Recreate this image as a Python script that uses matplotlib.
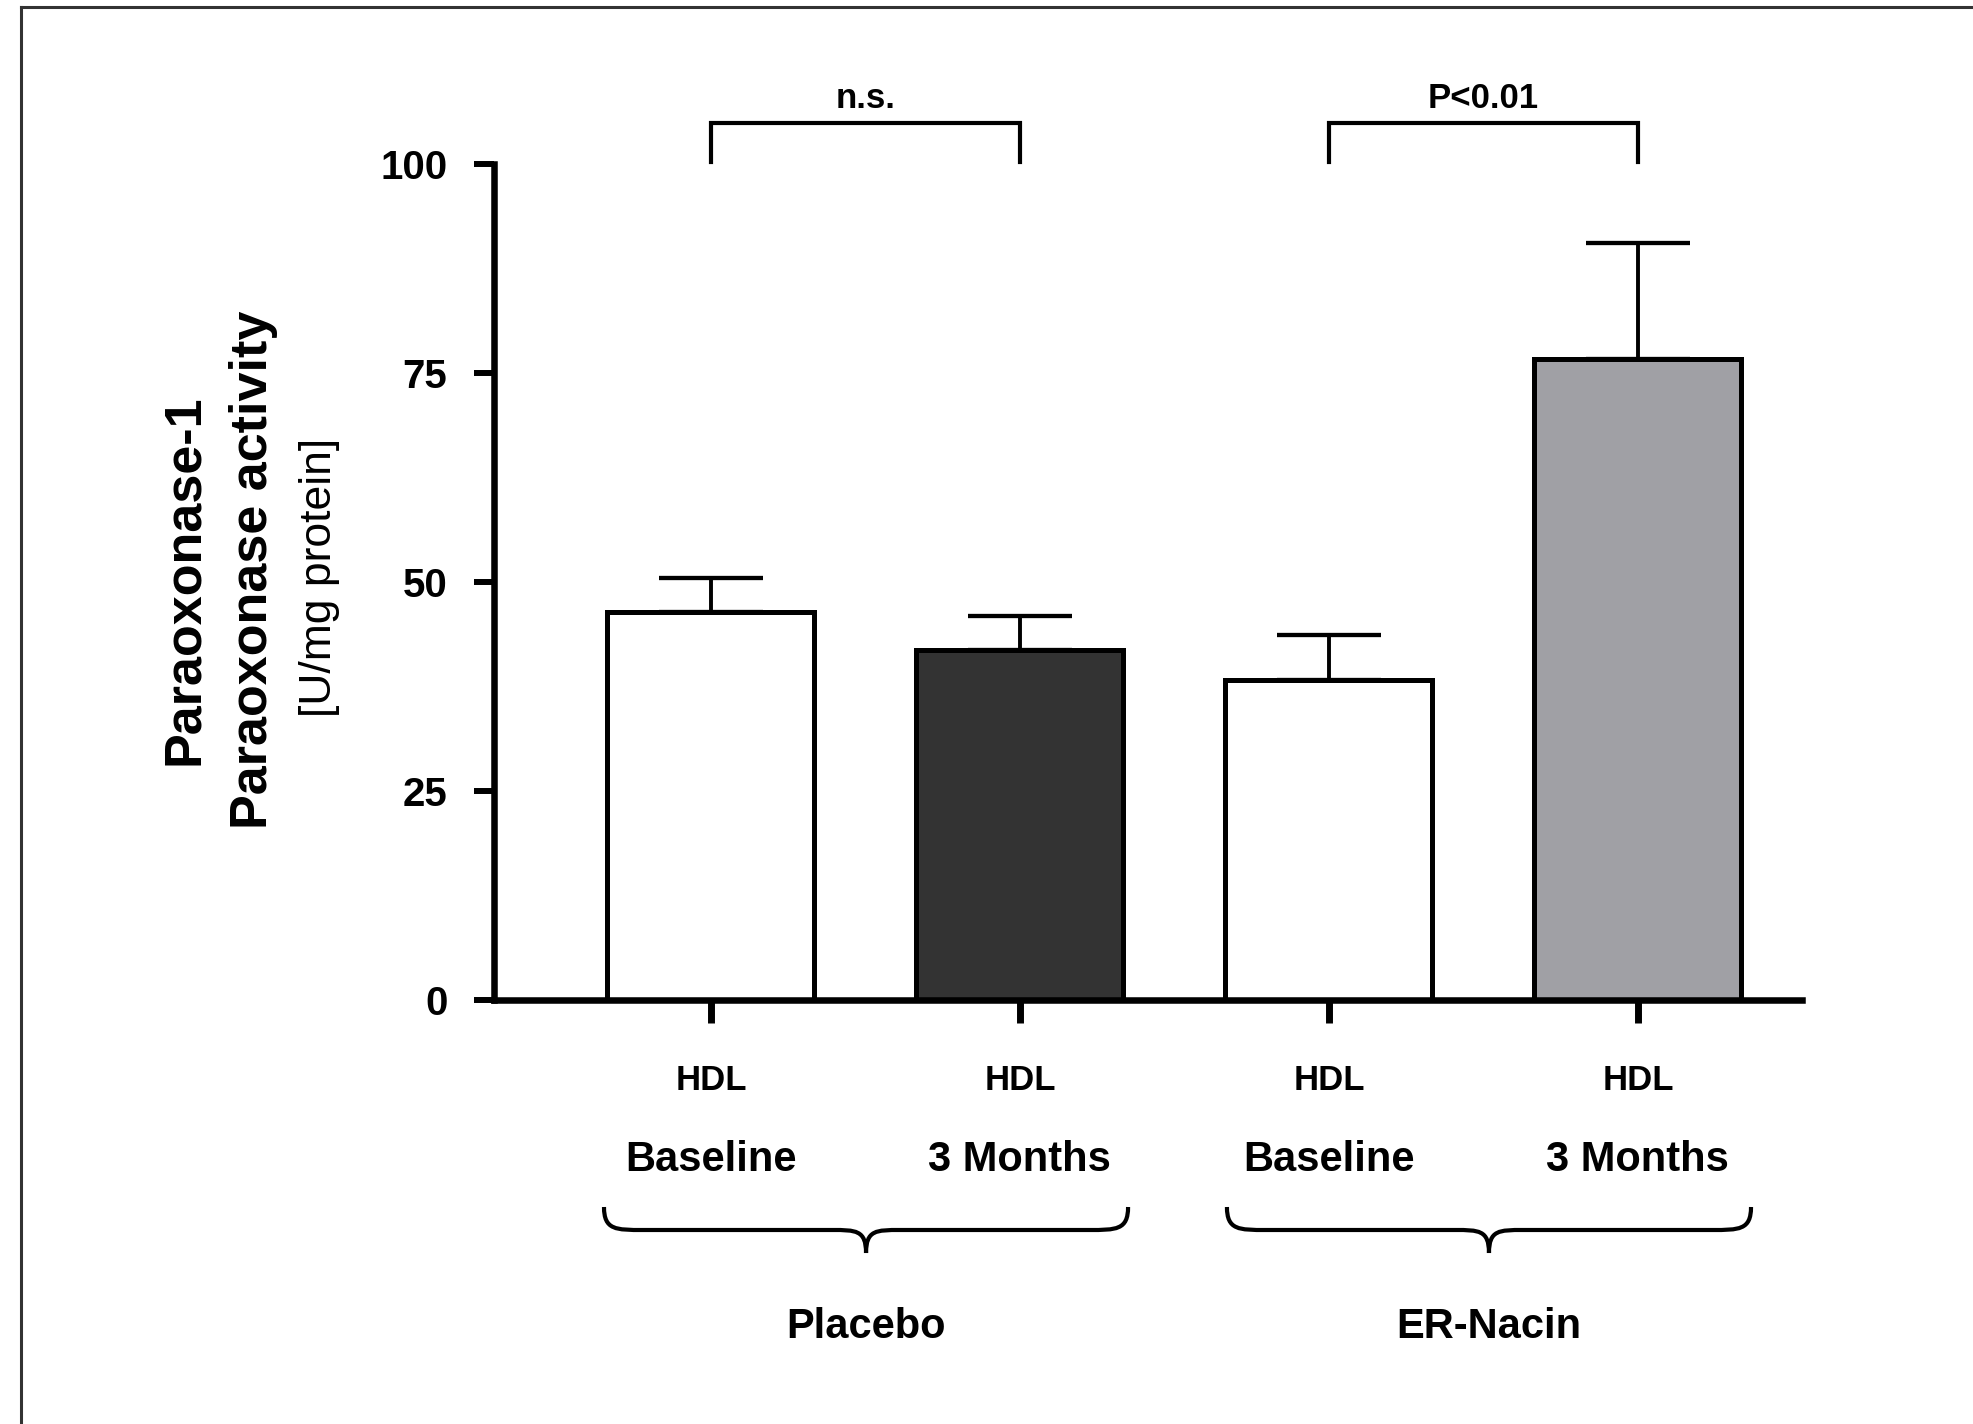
import matplotlib.pyplot as plt
import numpy as np
from matplotlib.path import Path
from matplotlib.patches import PathPatch
from matplotlib.lines import Line2D
from matplotlib.transforms import blended_transform_factory

plt.rcParams['font.family'] = ['Liberation Sans', 'DejaVu Sans']

# data
hdl_label = ['HDL', 'HDL', 'HDL', 'HDL']
time_label = ['Baseline', '3 Months', 'Baseline', '3 Months']
groups = ['Placebo', 'ER-Nacin']
means = [46.4, 41.9, 38.3, 76.7]
sem = [4.1, 4.0, 5.4, 13.9]
bar_colors = ['white', '#333333', 'white', '#a0a0a5']
signif = ['n.s.', 'P<0.01']

W, H = 1973, 1424
fig = plt.figure(figsize=(W / 100, H / 100), dpi=100)
ax = fig.add_axes([494 / W, 1 - 1000 / H, (1802 - 494) / W, (1000 - 164) / H])

x = np.arange(len(means))
ax.bar(x, means, width=0.67, color=bar_colors, edgecolor='black', linewidth=3.6, zorder=2)
ax.errorbar(x, means, yerr=[np.zeros(len(sem)), sem], fmt='none', ecolor='black',
            elinewidth=2.8, capsize=37.5, capthick=3.1, zorder=3)

ax.set_xlim(-0.702, 3.531)
ax.set_ylim(0, 100)
ax.set_yticks([0, 25, 50, 75, 100])
ax.set_xticks(x)
ax.set_xticklabels([''] * 4)
for s in ['top', 'right']:
    ax.spines[s].set_visible(False)
for s in ['left', 'bottom']:
    ax.spines[s].set_linewidth(4.7)
ax.tick_params(axis='y', length=14.5, width=4.3, pad=19, labelsize=29)
ax.tick_params(axis='x', length=16.5, width=5, pad=0)
for lbl in ax.get_yticklabels():
    lbl.set_fontweight('bold')

# x labels under the ticks
trans = blended_transform_factory(ax.transData, fig.transFigure)
for xi, a, b in zip(x, hdl_label, time_label):
    ax.text(xi, 1 - 1090 / H, a, transform=trans, ha='center', va='baseline',
            fontsize=25, fontweight='bold')
    ax.text(xi, 1 - 1171 / H, b, transform=trans, ha='center', va='baseline',
            fontsize=30, fontweight='bold')

# curly braces with group names
def brace(x0, x1):
    y_top, y_mid, y_tip = 1 - 1207 / H, 1 - 1230 / H, 1 - 1253 / H
    w = x1 - x0
    c = (x0 + x1) / 2
    r = 0.075 * w
    q = 0.065 * w
    verts = [(x0, y_top), (x0, y_mid), (x0 + r * 0.3, y_mid), (x0 + r, y_mid),
             (c - q, y_mid),
             (c - q * 0.3, y_mid), (c, y_mid), (c, y_tip),
             (c, y_mid), (c + q * 0.3, y_mid), (c + q, y_mid),
             (x1 - r, y_mid),
             (x1 - r * 0.3, y_mid), (x1, y_mid), (x1, y_top)]
    codes = [Path.MOVETO, Path.CURVE4, Path.CURVE4, Path.CURVE4,
             Path.LINETO,
             Path.CURVE4, Path.CURVE4, Path.CURVE4,
             Path.CURVE4, Path.CURVE4, Path.CURVE4,
             Path.LINETO,
             Path.CURVE4, Path.CURVE4, Path.CURVE4]
    ax.add_patch(PathPatch(Path(verts, codes), transform=trans, fill=False,
                           edgecolor='black', linewidth=3, clip_on=False))
    return c

for (x0, x1), g in zip([(-0.346, 1.350), (1.670, 3.366)], groups):
    c = brace(x0, x1)
    ax.text(c, 1 - 1338 / H, g, transform=trans, ha='center', va='baseline',
            fontsize=30, fontweight='bold')

# significance brackets
for (i, j), s in zip([(0, 1), (2, 3)], signif):
    ax.plot([x[i], x[i], x[j], x[j]], [100.2, 104.9, 104.9, 100.2], color='black',
            lw=3, clip_on=False, solid_joinstyle='miter')
    ax.text((x[i] + x[j]) / 2, 106.7, s, ha='center', va='baseline',
            fontsize=25, fontweight='bold')

# y axis label, three lines
fig.text(198 / W, 1 - 580 / H, 'Paraoxonase-1', rotation=90, rotation_mode='anchor',
         ha='center', va='baseline', fontsize=37.5, fontweight='bold')
fig.text(267 / W, 1 - 570 / H, 'Paraoxonase activity', rotation=90, rotation_mode='anchor',
         ha='center', va='baseline', fontsize=37.5, fontweight='bold')
fig.text(331 / W, 1 - 577 / H, '[U/mg protein]', rotation=90, rotation_mode='anchor',
         ha='center', va='baseline', fontsize=32)

# frame lines at left and top edge
fig.add_artist(Line2D([21 / W, 21 / W], [0, 1 - 7 / H], color='#333333', lw=2.2))
fig.add_artist(Line2D([21 / W, 1], [1 - 7 / H, 1 - 7 / H], color='#333333', lw=2.2))

plt.savefig('out.png', dpi=100)
